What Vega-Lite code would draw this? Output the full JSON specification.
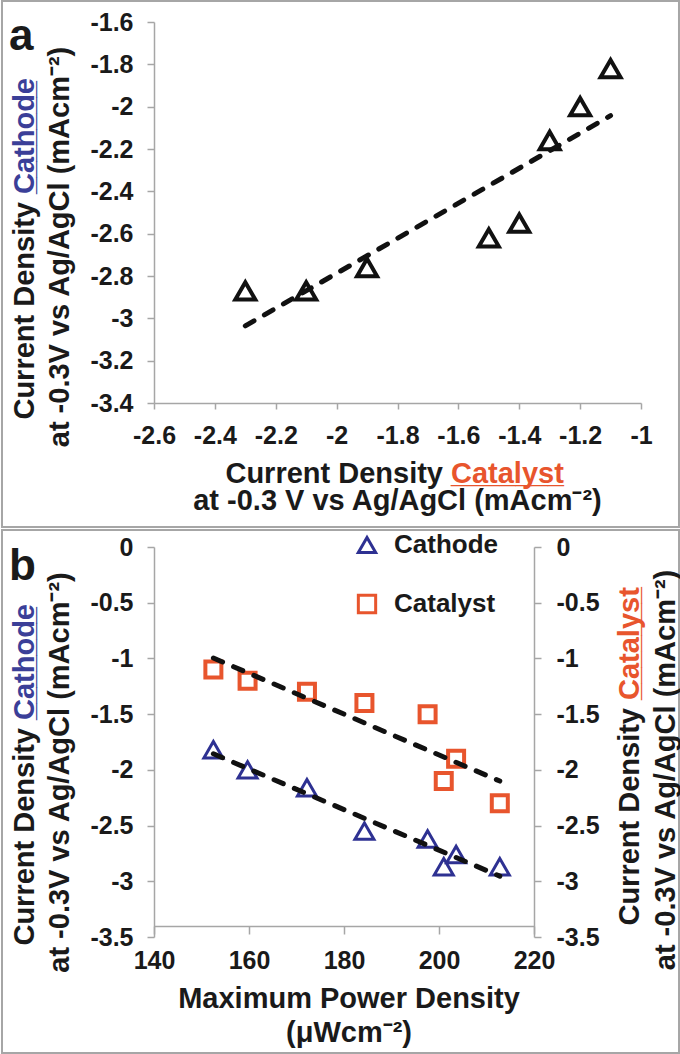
{
  "$schema": "https://vega.github.io/schema/vega-lite/v6.json",
  "padding": 0,
  "autosize": {"type": "pad"},
  "background": "white",
  "datasets": {
    "d": [
      {"MPD": 152.5, "Catalyst": -1.1, "Cathode": -1.82},
      {"MPD": 159.7, "Catalyst": -1.2, "Cathode": -2.0},
      {"MPD": 172.2, "Catalyst": -1.3, "Cathode": -2.16},
      {"MPD": 184.3, "Catalyst": -1.4, "Cathode": -2.55},
      {"MPD": 197.6, "Catalyst": -1.5, "Cathode": -2.62},
      {"MPD": 201.0, "Catalyst": -2.1, "Cathode": -2.87},
      {"MPD": 203.6, "Catalyst": -1.9, "Cathode": -2.76},
      {"MPD": 212.8, "Catalyst": -2.3, "Cathode": -2.87}
    ]
  },
  "config": {
    "view": {"stroke": null},
    "font": "Liberation Sans",
    "axis": {
      "grid": false,
      "domainColor": "#a6a6a6",
      "domainWidth": 1.5,
      "tickColor": "#a6a6a6",
      "tickWidth": 1.5,
      "labelFont": "Liberation Sans",
      "labelFontWeight": "bold",
      "labelFontSize": 25,
      "labelColor": "#1a1a1a",
      "labelExpr": "replace(datum.label, '\u2212', '-')"
    },
    "text": {"font": "Liberation Sans", "fontWeight": "bold", "fontSize": 29, "color": "#1a1a1a", "baseline": "alphabetic"}
  },
  "resolve": {"legend": {"color": "independent", "shape": "independent"}},
  "spacing": 144,
  "bounds": "flush",
  "vconcat": [
    {
      "width": 487,
      "height": 381,
      "layer": [
        {
          "data": {"values": [{}]},
          "mark": {"type": "rect", "fill": "transparent", "stroke": "#a6a6a6", "strokeWidth": 2},
          "encoding": {
            "x": {"datum": -3.0994, "type": "quantitative", "scale": {"domain": [-2.6, -1], "nice": false, "zero": false}},
            "x2": {"datum": -0.8752},
            "y": {"datum": -1.5008, "type": "quantitative", "scale": {"domain": [-3.4, -1.6], "nice": false, "zero": false}},
            "y2": {"datum": -3.9858}
          }
        },
        {
          "data": {"name": "d"},
          "mark": {"type": "point", "shape": "triangle-up", "filled": false, "stroke": "#111111", "strokeWidth": 4, "size": 400, "opacity": 1},
          "encoding": {
            "x": {"field": "Catalyst", "type": "quantitative", "scale": {"domain": [-2.6, -1], "nice": false, "zero": false},
                  "axis": {"title": null, "format": "~g", "values": [-2.6, -2.4, -2.2, -2, -1.8, -1.6, -1.4, -1.2, -1], "tickSize": 6, "labelPadding": 14, "labelFlush": false, "labelOverlap": false}},
            "y": {"field": "Cathode", "type": "quantitative", "scale": {"domain": [-3.4, -1.6], "nice": false, "zero": false},
                  "axis": {"title": null, "format": "~g", "values": [-3.4, -3.2, -3, -2.8, -2.6, -2.4, -2.2, -2, -1.8, -1.6], "tickSize": 7, "labelPadding": 14, "labelFlush": false, "labelOverlap": false}}
          }
        },
        {
          "data": {"name": "d"},
          "transform": [{"regression": "Cathode", "on": "Catalyst"}],
          "mark": {"type": "line", "color": "#111111", "strokeWidth": 5, "strokeDash": [10, 12], "strokeCap": "round"},
          "encoding": {
            "x": {"field": "Catalyst", "type": "quantitative", "scale": {"domain": [-2.6, -1], "nice": false, "zero": false}},
            "y": {"field": "Cathode", "type": "quantitative", "scale": {"domain": [-3.4, -1.6], "nice": false, "zero": false}}
          }
        },
        {
          "data": {"values": [{}]},
          "encoding": {
            "x": {"datum": -2.6, "type": "quantitative", "scale": {"domain": [-2.6, -1], "nice": false, "zero": false}},
            "y": {"datum": -1.6, "type": "quantitative", "scale": {"domain": [-3.4, -1.6], "nice": false, "zero": false}}
          },
          "layer": [
            {"mark": {"type": "text", "text": "a", "fontSize": 44, "align": "left", "dx": -145, "dy": 28}},
            {"mark": {"type": "text", "text": "Current Density", "angle": 270, "align": "right", "dx": -180, "dy": -120}},
            {"mark": {"type": "text", "text": "Cathode", "angle": 270, "align": "left", "dx": -172, "dy": -120, "color": "#3B3F98"}},
            {"mark": {"type": "text", "text": "_______", "angle": 270, "align": "left", "dx": -172, "dy": -120, "color": "#3B3F98"}},
            {"mark": {"type": "text", "text": "at -0.3V vs Ag/AgCl (mAcm⁻²)", "angle": 270, "align": "center", "dx": -225, "dy": -85}}
          ]
        },
        {
          "data": {"values": [{}]},
          "encoding": {
            "x": {"datum": -2.6, "type": "quantitative", "scale": {"domain": [-2.6, -1], "nice": false, "zero": false}},
            "y": {"datum": -3.4, "type": "quantitative", "scale": {"domain": [-3.4, -1.6], "nice": false, "zero": false}}
          },
          "layer": [
            {"mark": {"type": "text", "text": "Current Density", "align": "right", "dx": 289, "dy": 80}},
            {"mark": {"type": "text", "text": "Catalyst", "align": "left", "dx": 297, "dy": 80, "color": "#E8552D"}},
            {"mark": {"type": "text", "text": "_______", "align": "left", "dx": 297, "dy": 80, "color": "#E8552D"}},
            {"mark": {"type": "text", "text": "at -0.3 V vs Ag/AgCl (mAcm⁻²)", "align": "center", "dx": 243.5, "dy": 107}}
          ]
        }
      ]
    },
    {
      "width": 380,
      "height": 390,
      "resolve": {"scale": {"y": "independent"}},
      "layer": [
        {
          "layer": [
            {
              "data": {"values": [{}]},
              "mark": {"type": "rect", "fill": "transparent", "stroke": "#a6a6a6", "strokeWidth": 2},
              "encoding": {
                "x": {"datum": 108, "type": "quantitative", "scale": {"domain": [140, 220], "nice": false, "zero": false}},
                "x2": {"datum": 250.53},
                "y": {"datum": 0.1526, "type": "quantitative", "scale": {"domain": [-3.5, 0], "nice": false, "zero": false}},
                "y2": {"datum": -4.541}
              }
            },
            {
              "data": {"name": "d"},
              "transform": [{"fold": ["Cathode"], "as": ["series", "val"]}],
              "mark": {"type": "point", "filled": false, "strokeWidth": 3, "size": 360, "opacity": 1},
              "encoding": {
                "x": {"field": "MPD", "type": "quantitative", "scale": {"domain": [140, 220], "nice": false, "zero": false},
                      "axis": {"title": null, "format": "d", "values": [140, 160, 180, 200, 220], "tickSize": 8, "labelPadding": 14, "offset": -11, "labelFlush": false, "labelOverlap": false}},
                "y": {"field": "val", "type": "quantitative", "scale": {"domain": [-3.5, 0], "nice": false, "zero": false},
                      "axis": {"title": null, "format": "~g", "orient": "left", "values": [0, -0.5, -1, -1.5, -2, -2.5, -3, -3.5], "tickSize": 7, "labelPadding": 14, "labelFlush": false, "labelOverlap": false}},
                "color": {"field": "series", "type": "nominal", "scale": {"domain": ["Cathode", "Catalyst"], "range": ["#2E3192", "#E8552D"]},
                          "legend": {"title": null, "orient": "none", "legendX": 200, "legendY": -15, "labelFont": "Liberation Sans", "labelFontSize": 26, "labelFontWeight": "bold", "labelColor": "#1a1a1a", "symbolSize": 300, "symbolStrokeWidth": 3, "rowPadding": 30, "labelOffset": 14, "padding": 0}},
                "shape": {"field": "series", "type": "nominal", "scale": {"domain": ["Cathode", "Catalyst"], "range": ["triangle-up", "square"]},
                          "legend": {"title": null, "orient": "none", "legendX": 200, "legendY": -15, "labelFont": "Liberation Sans", "labelFontSize": 26, "labelFontWeight": "bold", "labelColor": "#1a1a1a", "symbolSize": 300, "symbolStrokeWidth": 3, "rowPadding": 30, "labelOffset": 14, "padding": 0}}
              }
            },
            {
              "data": {"name": "d"},
              "transform": [{"regression": "Cathode", "on": "MPD"}],
              "mark": {"type": "line", "color": "#111111", "strokeWidth": 5, "strokeDash": [10, 12], "strokeCap": "round"},
              "encoding": {
                "x": {"field": "MPD", "type": "quantitative", "scale": {"domain": [140, 220], "nice": false, "zero": false}},
                "y": {"field": "Cathode", "type": "quantitative", "scale": {"domain": [-3.5, 0], "nice": false, "zero": false}}
              }
            },
            {
              "data": {"values": [{}]},
              "encoding": {
                "x": {"datum": 140, "type": "quantitative", "scale": {"domain": [140, 220], "nice": false, "zero": false}},
                "y": {"datum": 0, "type": "quantitative", "scale": {"domain": [-3.5, 0], "nice": false, "zero": false}}
              },
              "layer": [
                {"mark": {"type": "text", "text": "b", "fontSize": 44, "align": "left", "dx": -145, "dy": 33}},
                {"mark": {"type": "text", "text": "Current Density", "angle": 270, "align": "right", "dx": -181, "dy": -120}},
                {"mark": {"type": "text", "text": "Cathode", "angle": 270, "align": "left", "dx": -173, "dy": -120, "color": "#3B3F98"}},
                {"mark": {"type": "text", "text": "_______", "angle": 270, "align": "left", "dx": -173, "dy": -120, "color": "#3B3F98"}},
                {"mark": {"type": "text", "text": "at -0.3V vs Ag/AgCl (mAcm⁻²)", "angle": 270, "align": "center", "dx": -225.5, "dy": -85}}
              ]
            },
            {
              "data": {"values": [{}]},
              "encoding": {
                "x": {"datum": 180, "type": "quantitative", "scale": {"domain": [140, 220], "nice": false, "zero": false}},
                "y": {"datum": -3.5, "type": "quantitative", "scale": {"domain": [-3.5, 0], "nice": false, "zero": false}}
              },
              "layer": [
                {"mark": {"type": "text", "text": "Maximum Power Density", "align": "center", "dx": 5, "dy": 71}},
                {"mark": {"type": "text", "text": "(μWcm⁻²)", "align": "center", "dx": 5, "dy": 105}}
              ]
            }
          ]
        },
        {
          "layer": [
            {
              "data": {"name": "d"},
              "transform": [{"fold": ["Catalyst"], "as": ["series", "val"]}],
              "mark": {"type": "point", "filled": false, "strokeWidth": 4, "size": 256, "opacity": 1},
              "encoding": {
                "x": {"field": "MPD", "type": "quantitative", "scale": {"domain": [140, 220], "nice": false, "zero": false}},
                "y": {"field": "val", "type": "quantitative", "scale": {"domain": [-3.5, 0], "nice": false, "zero": false},
                      "axis": {"title": null, "format": "~g", "orient": "right", "values": [0, -0.5, -1, -1.5, -2, -2.5, -3, -3.5], "tickSize": 7, "labelPadding": 15, "labelFlush": false, "labelOverlap": false}},
                "color": {"field": "series", "type": "nominal", "scale": {"domain": ["Cathode", "Catalyst"], "range": ["#2E3192", "#E8552D"]},
                          "legend": {"title": null, "orient": "none", "legendX": 200, "legendY": -15, "labelFont": "Liberation Sans", "labelFontSize": 26, "labelFontWeight": "bold", "labelColor": "#1a1a1a", "symbolSize": 300, "symbolStrokeWidth": 3, "rowPadding": 30, "labelOffset": 14, "padding": 0}},
                "shape": {"field": "series", "type": "nominal", "scale": {"domain": ["Cathode", "Catalyst"], "range": ["triangle-up", "square"]},
                          "legend": {"title": null, "orient": "none", "legendX": 200, "legendY": -15, "labelFont": "Liberation Sans", "labelFontSize": 26, "labelFontWeight": "bold", "labelColor": "#1a1a1a", "symbolSize": 300, "symbolStrokeWidth": 3, "rowPadding": 30, "labelOffset": 14, "padding": 0}}
              }
            },
            {
              "data": {"name": "d"},
              "transform": [{"regression": "Catalyst", "on": "MPD"}],
              "mark": {"type": "line", "color": "#111111", "strokeWidth": 5, "strokeDash": [10, 12], "strokeCap": "round"},
              "encoding": {
                "x": {"field": "MPD", "type": "quantitative", "scale": {"domain": [140, 220], "nice": false, "zero": false}},
                "y": {"field": "Catalyst", "type": "quantitative", "scale": {"domain": [-3.5, 0], "nice": false, "zero": false}}
              }
            },
            {
              "data": {"values": [{}]},
              "encoding": {
                "x": {"datum": 220, "type": "quantitative", "scale": {"domain": [140, 220], "nice": false, "zero": false}},
                "y": {"datum": 0, "type": "quantitative", "scale": {"domain": [-3.5, 0], "nice": false, "zero": false}}
              },
              "layer": [
                {"mark": {"type": "text", "text": "Current Density", "angle": 270, "align": "right", "dx": -161, "dy": 105}},
                {"mark": {"type": "text", "text": "Catalyst", "angle": 270, "align": "left", "dx": -153, "dy": 105, "color": "#E8552D"}},
                {"mark": {"type": "text", "text": "_______", "angle": 270, "align": "left", "dx": -153, "dy": 105, "color": "#E8552D"}},
                {"mark": {"type": "text", "text": "at -0.3V vs Ag/AgCl (mAcm⁻²)", "angle": 270, "align": "center", "dx": -223, "dy": 141}}
              ]
            }
          ]
        }
      ]
    }
  ]
}
